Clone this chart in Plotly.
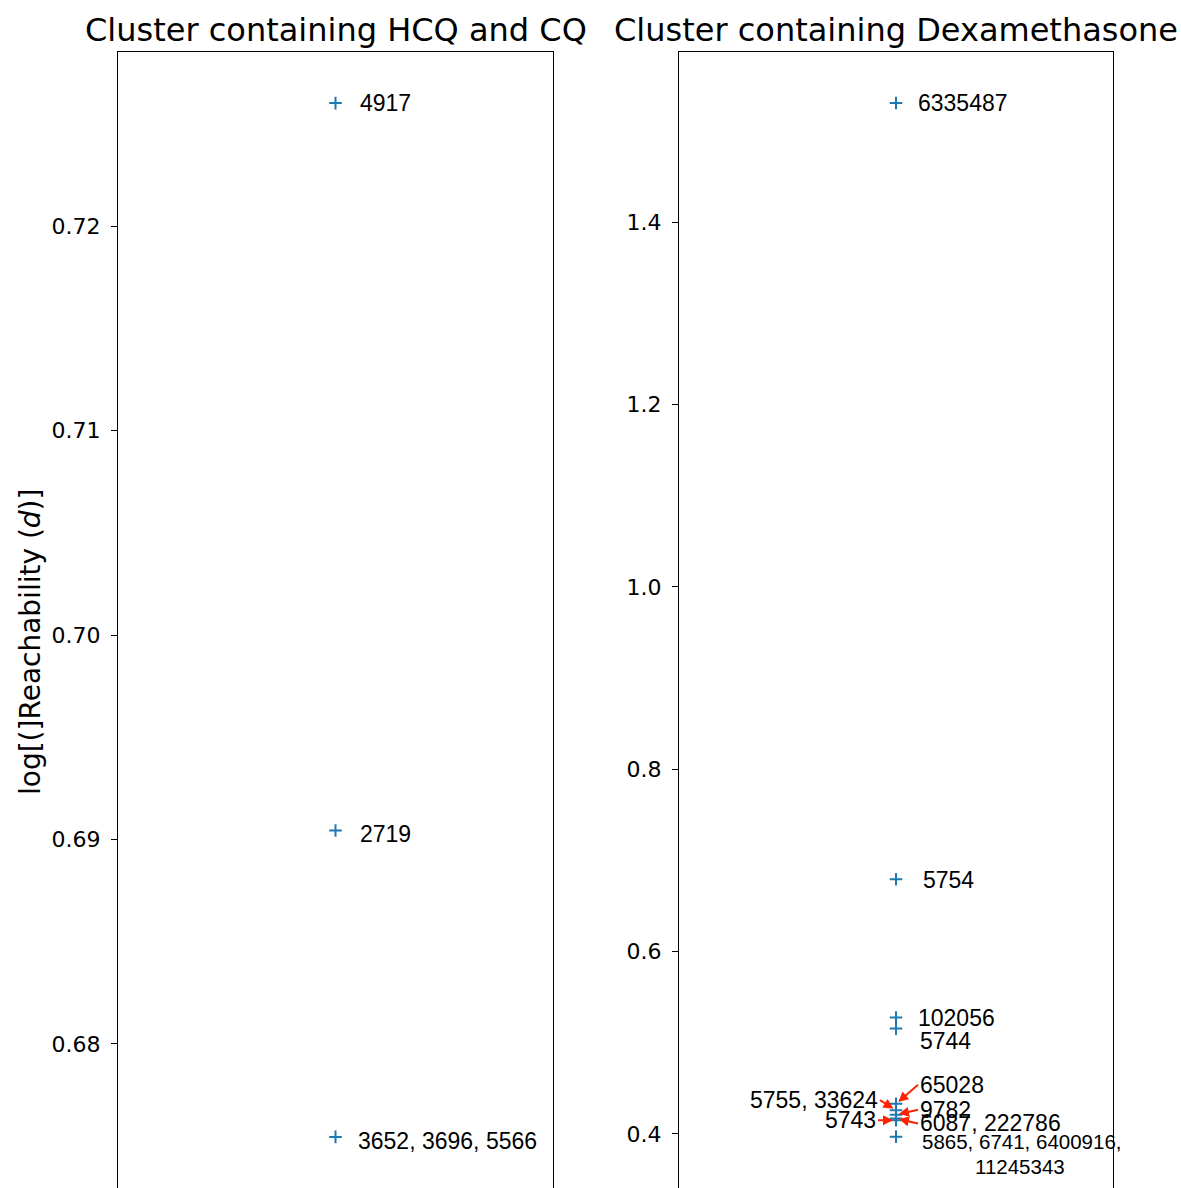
import plotly.graph_objects as go

# ---- data ----
left_title = "Cluster containing HCQ and CQ"
right_title = "Cluster containing Dexamethasone"
y_label = "log[(]Reachability (<i>d</i>)]"

left_labels = ["4917", "2719", "3652, 3696, 5566"]
left_values = [0.72602, 0.69044, 0.67545]

right_labels = ["6335487", "5754", "102056", "5744", "65028", "5755, 33624",
                "9782", "5743", "6087, 222786", "5865, 6741, 6400916,<br>11245343"]
right_values = [1.5306, 0.6793, 0.5276, 0.5155, 0.433, 0.426,
                0.421, 0.415, 0.417, 0.397]

left_ticks = [0.68, 0.69, 0.70, 0.71, 0.72]
left_ticktext = ["0.68", "0.69", "0.70", "0.71", "0.72"]
right_ticks = [0.4, 0.6, 0.8, 1.0, 1.2, 1.4]
right_ticktext = ["0.4", "0.6", "0.8", "1.0", "1.2", "1.4"]

# ---- label placement (style / position only) ----
# (xshift px, yshift px (+ = up for plain labels; arrow tail offset for arrows: + = down), arrow?, side, font size)
left_place = [(22, 0, False, "left", 23), (22, -4, False, "left", 23), (20, -4, False, "left", 23)]
right_place = [
    (20, 0, False, "left", 23),      # 6335487
    (25, -1, False, "left", 23),     # 5754
    (20, 0, False, "left", 23),      # 102056
    (22, -12, False, "left", 23),    # 5744
    (22, -19, True, "left", 23),     # 65028
    (-16, -10, True, "right", 23),   # 5755, 33624
    (22, -5, True, "left", 23),      # 9782
    (-18, 0, True, "right", 23),     # 5743
    (22, 5, True, "left", 23),       # 6087, 222786
    (24, -5, False, "left", 20.5),   # bottom label (two lines)
]

W, H = 1181, 1188
blue = "#1f77b4"
label_family = "Liberation Sans, Arial, Helvetica"
tick_font = dict(family="DejaVu Sans", size=22, color="black")

fig = go.Figure()
for vals, xa, ya in [(left_values, "x", "y"), (right_values, "x2", "y2")]:
    fig.add_trace(go.Scatter(x=[0] * len(vals), y=vals, mode="markers",
                             marker=dict(symbol="cross-thin", size=9,
                                         line=dict(color=blue, width=2)),
                             xaxis=xa, yaxis=ya, showlegend=False, hoverinfo="y"))

annotations = []


def add_labels(labels, values, places, xref, yref):
    for lab, val, (dx, dy, arrow, side, fs) in zip(labels, values, places):
        font = dict(family=label_family, size=fs, color="black")
        if arrow:
            annotations.append(dict(
                x=0, y=val, xref=xref, yref=yref, text=lab, font=font,
                showarrow=True, ax=dx, ay=dy, axref="pixel", ayref="pixel",
                xanchor=side, yanchor="middle",
                arrowcolor="#ff2200", arrowhead=2, arrowsize=1.0, arrowwidth=2,
                standoff=3, startstandoff=0))
        elif "<br>" in lab:
            first, second = lab.split("<br>")
            annotations.append(dict(
                x=0, y=val, xref=xref, yref=yref, text=first, font=font,
                showarrow=False, xanchor="left", yanchor="middle",
                xshift=dx, yshift=dy))
            # second line centred under the first (approx. 1.2 line spacing)
            annotations.append(dict(
                x=0, y=val, xref=xref, yref=yref, text=second, font=font,
                showarrow=False, xanchor="center", yanchor="middle",
                xshift=dx + 100, yshift=dy - 1.2 * fs))
        else:
            annotations.append(dict(
                x=0, y=val, xref=xref, yref=yref, text=lab, font=font,
                showarrow=False, xanchor=side, yanchor="middle",
                xshift=dx, yshift=dy))


add_labels(left_labels, left_values, left_place, "x", "y")
add_labels(right_labels, right_values, right_place, "x2", "y2")

title_font = dict(family="DejaVu Sans", size=32, color="black")
annotations.append(dict(text=left_title, x=(118 + 553) / 2 / W, y=1 - 30 / H, xref="paper", yref="paper",
                        showarrow=False, xanchor="center", yanchor="middle", font=title_font))
annotations.append(dict(text=right_title, x=(679 + 1113) / 2 / W, y=1 - 30 / H, xref="paper", yref="paper",
                        showarrow=False, xanchor="center", yanchor="middle", font=title_font))
annotations.append(dict(text=y_label, x=30 / W, y=1 - 642 / H, xref="paper", yref="paper",
                        showarrow=False, xanchor="center", yanchor="middle", textangle=-90,
                        font=dict(family="DejaVu Sans", size=28, color="black")))

axis_common = dict(showline=True, linecolor="black", linewidth=1.3, mirror=True,
                   showgrid=False, zeroline=False)
yaxis_common = dict(ticks="outside", ticklen=6, tickwidth=1.2, tickcolor="black",
                    tickfont=tick_font, ticklabelstandoff=6, **axis_common)

fig.update_layout(
    width=W, height=H,
    margin=dict(l=0, r=0, t=0, b=0),
    paper_bgcolor="white", plot_bgcolor="white",
    xaxis=dict(domain=[118 / W, 553 / W], range=[-1, 1], showticklabels=False, ticks="",
               anchor="y", **axis_common),
    xaxis2=dict(domain=[679 / W, 1113 / W], range=[-1, 1], showticklabels=False, ticks="",
                anchor="y2", **axis_common),
    yaxis=dict(domain=[0, 1 - 52 / H], range=[0.67295, 0.72852], tickvals=left_ticks,
               ticktext=left_ticktext, anchor="x", **yaxis_common),
    yaxis2=dict(domain=[0, 1 - 52 / H], range=[0.3407, 1.5866], tickvals=right_ticks,
                ticktext=right_ticktext, anchor="x2", **yaxis_common),
    annotations=annotations,
)

fig.write_html("out.html")
